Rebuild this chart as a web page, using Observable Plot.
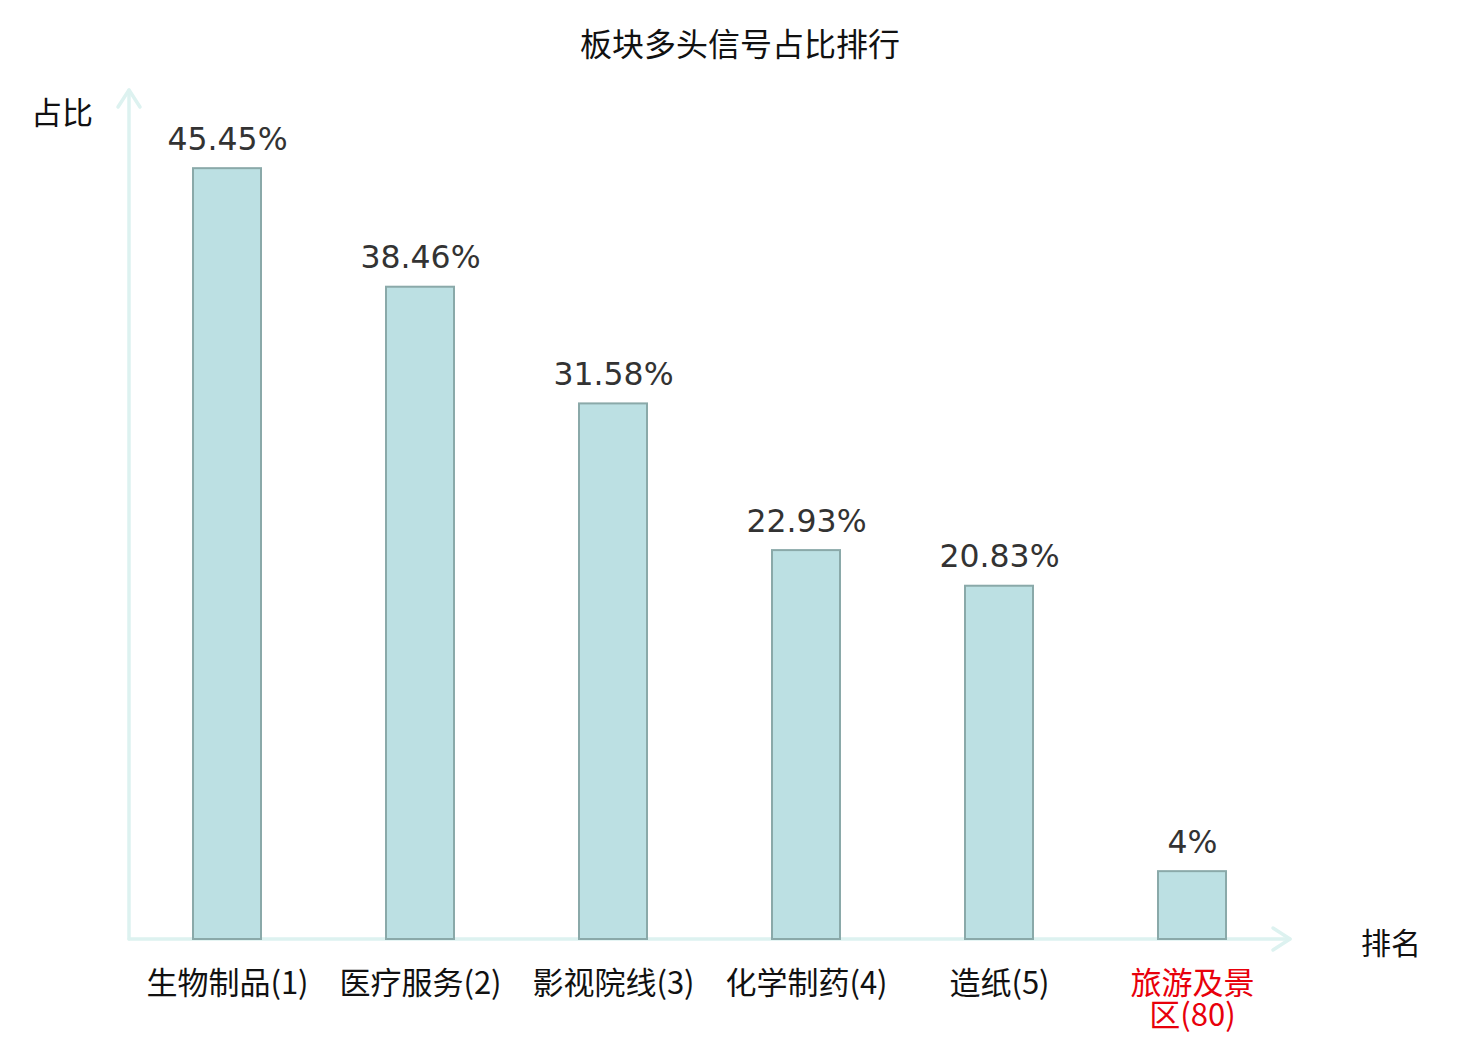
<!DOCTYPE html>
<html><head><meta charset="utf-8">
<script src="https://cdn.jsdelivr.net/npm/d3@7"></script>
<script src="https://cdn.jsdelivr.net/npm/@observablehq/plot@0.6"></script>
<style>
body{margin:0;background:#fff;}
#wrap{position:relative;width:1480px;height:1040px;overflow:hidden;}
.lbl{position:absolute;font-family:"Noto Sans CJK SC","Noto Sans",sans-serif;color:#111;line-height:1;transform:translate(-50%,-50%);white-space:nowrap;}
</style></head><body>
<div id="wrap">
  <div class="lbl" style="left:740px;top:42px;font-size:32px;">板块多头信号占比排行</div>
  <div class="lbl" style="left:62px;top:110px;font-size:31px;">占比</div>
  <div class="lbl" style="left:1391px;top:941px;font-size:30px;">排名</div>
</div>
<script>
const sectors = ["生物制品","医疗服务","影视院线","化学制药","造纸","旅游及景区"];
const ranks = [1, 2, 3, 4, 5, 80];
const shares = [45.45, 38.46, 31.58, 22.93, 20.83, 4];
const valueLabels = ["45.45%","38.46%","31.58%","22.93%","20.83%","4%"];
const tickLabels = ["生物制品(1)","医疗服务(2)","影视院线(3)","化学制药(4)","造纸(5)","旅游及景\n区(80)"];
const highlighted = [false, false, false, false, false, true];

const data = sectors.map((s, i) => ({
  sector: s, rank: ranks[i], share: shares[i],
  label: valueLabels[i], tick: tickLabels[i], hl: highlighted[i]
}));

const axisColor = "#ddf2f0";

const plot = Plot.plot({
  width: 1480, height: 1040,
  marginLeft: 129, marginRight: 190, marginTop: 91, marginBottom: 101,
  style: {background: "transparent", overflow: "visible"},
  x: {domain: sectors, paddingInner: 0.648, paddingOuter: 0.326, axis: null},
  y: {domain: [0, 50], axis: null},
  marks: [
    Plot.barY(data, {x: "sector", y: "share", fill: "#bce0e3", stroke: "#8aa9a9", strokeWidth: 2}),
    Plot.text(data, {x: "sector", y: "share", text: "label", dy: -29, fontSize: 31.5,
      fill: "#333", fontFamily: "DejaVu Sans"}),
    Plot.text(data, {x: "sector", y: () => 0, text: "tick", lineAnchor: "top", dy: 31,
      fontSize: 31, lineHeight: 1.05, fontFamily: "Noto Sans CJK SC",
      fill: d => d.hl ? "#e8000b" : "#111"})
  ]
});

const wrap = document.getElementById("wrap");
plot.style.position = "absolute";
plot.style.left = "0px";
plot.style.top = "0px";
wrap.insertBefore(plot, wrap.firstChild);

// axes with open arrowheads, positioned by the plot's own scales
const xs = plot.scale("x"), ys = plot.scale("y");
const x0 = xs.range[0], x1 = xs.range[1];
const y0 = ys.apply(0), yTop = ys.apply(50) - 1;
const svg = d3.select(plot);
const g = svg.insert("g", "g").attr("fill", "none").attr("stroke", axisColor)
  .attr("stroke-width", 3.5).attr("stroke-linecap", "round").attr("stroke-linejoin", "round");
g.append("line").attr("x1", x0).attr("y1", y0).attr("x2", x0).attr("y2", yTop);
g.append("line").attr("x1", x0).attr("y1", y0).attr("x2", x1).attr("y2", y0);
g.append("path").attr("d", `M${x0 - 11},${yTop + 17}L${x0},${yTop}L${x0 + 11},${yTop + 17}`);
g.append("path").attr("d", `M${x1 - 17},${y0 - 11}L${x1},${y0}L${x1 - 17},${y0 + 11}`);
</script>
</body></html>
